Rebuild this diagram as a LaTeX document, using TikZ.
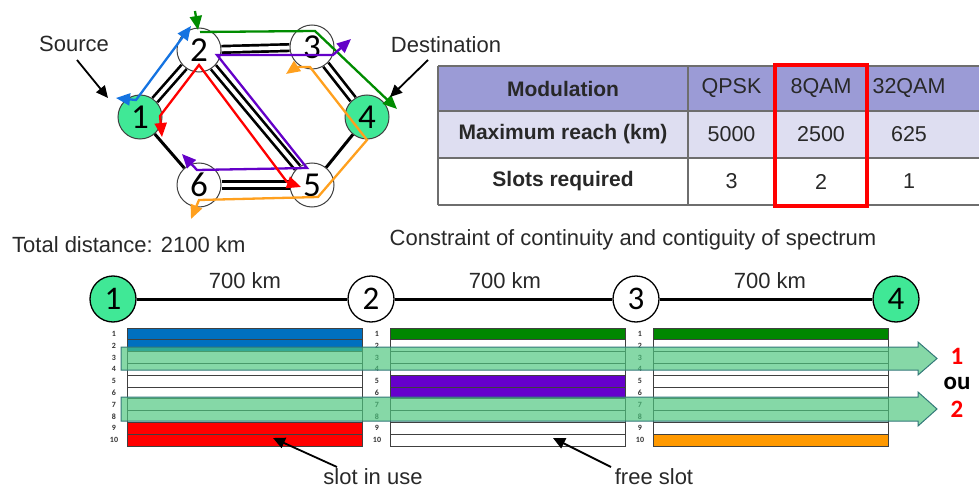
\documentclass[tikz,border=0pt]{standalone}
\usepackage{fontspec}
\setmainfont{Liberation Sans}
\newfontfamily\carl{Carlito}
\usetikzlibrary{arrows.meta}
\definecolor{txtc}{RGB}{40,40,40}
\definecolor{ngreen}{RGB}{64,232,150}
\definecolor{pblue}{RGB}{20,115,225}
\definecolor{pgreen}{RGB}{0,140,0}
\definecolor{ppurple}{RGB}{100,0,200}
\definecolor{pred}{RGB}{255,0,0}
\definecolor{porange}{RGB}{255,160,30}
\definecolor{sblue}{RGB}{0,112,192}
\definecolor{sgreen}{RGB}{0,135,0}
\definecolor{spurple}{RGB}{102,0,204}
\definecolor{sred}{RGB}{255,0,0}
\definecolor{sorange}{RGB}{255,153,0}
\definecolor{swhite}{RGB}{255,255,255}
\definecolor{hdr}{RGB}{155,155,214}
\definecolor{row2}{RGB}{222,222,241}
\definecolor{hlfill}{RGB}{76,198,126}
\definecolor{hlline}{RGB}{50,120,120}
\definecolor{tline}{RGB}{110,110,110}
\begin{document}
\begin{tikzpicture}[x=1pt,y=-1pt,
  txt/.style={text=txtc,inner sep=0pt,font=\fontsize{22}{24}\selectfont},
  ttxt/.style={text=txtc,inner sep=0pt,font=\fontsize{21.5}{24}\selectfont},
  tbold/.style={text=txtc,inner sep=0pt,font=\bfseries\fontsize{21}{24}\selectfont},
  gnode/.style={circle,draw=black!75,line width=1pt,minimum size=44pt,inner sep=0pt,fill=white,
     font=\carl\fontsize{35}{35}\selectfont},
  lnode/.style={circle,draw=black,line width=1.3pt,minimum size=46pt,inner sep=0pt,fill=white,
     font=\carl\fontsize{33}{33}\selectfont},
  endn/.style={fill=ngreen},
  dbl/.style={draw=black,double=white,double distance=3.8pt,line width=2.7pt},
  sgl/.style={draw=black,line width=3pt},
  lp/.style={line width=2.3pt,line join=miter,{Triangle[length=14pt,width=12pt]}-{Triangle[length=14pt,width=12pt]}},
  lpe/.style={line width=2.3pt,line join=miter,-{Triangle[length=14pt,width=12pt]}},
  ptr/.style={draw=black,line width=1.8pt,-{Triangle[length=12pt,width=11pt]}},
  cell/.style={draw=black!75,line width=0.8pt},
  rnum/.style={inner sep=0pt,text=black!80,font=\carl\bfseries\fontsize{8}{8}\selectfont},
  hl/.style={fill=hlfill,fill opacity=0.68,draw=hlline,line width=1pt},
  rlab/.style={inner sep=0pt,font=\carl\bfseries\fontsize{25}{25}\selectfont}
]
\useasboundingbox (0,0) rectangle (979,489);

% ---------------- network graph ----------------
\node[gnode,endn] (n1) at (140,117) {1};
\node[gnode] (n2) at (199,50) {2};
\node[gnode] (n3) at (312,47) {3};
\node[gnode,endn] (n4) at (367,117) {4};
\node[gnode] (n5) at (312,185) {5};
\node[gnode] (n6) at (199,185) {6};
\draw[dbl] (n1) -- (n2);
\draw[dbl] (n2) -- (n3);
\draw[dbl] (n3) -- (n4);
\draw[dbl] (n2) -- (n5);
\draw[dbl] (n6) -- (n5);
\draw[sgl] (n1) -- (n6);
\draw[sgl] (n4) -- (n5);

% lightpaths
\draw[lp,pblue] (116,98) -- (136,100) -- (191,26);
\draw[lpe,pgreen] (195,11) -- (198,30);
\draw[lpe,pgreen] (200,32) -- (315,31) -- (397,109);
\draw[lp,ppurple] (351,39) -- (333,55) -- (217,55) -- (307,168) -- (197,170) -- (182,154);
\draw[lp,pred] (162,137) -- (160,116) -- (199,65) -- (287,182) -- (301,187);
\draw[lp,porange] (286,74) -- (296,67) -- (310,67) -- (367,140) -- (318,197) -- (199,200) -- (191,219);

% source / destination
\node[txt] (src) at (74,44) {Source};
\node[txt] (dst) at (446,45) {Destination};
\coordinate (srcT) at (108,98);
\coordinate (dstT) at (390,97);
\draw[ptr] (77,60) -- (srcT);
\draw[ptr] (428,60) -- (dstT);

% ---------------- table ----------------
\fill[hdr] (438,66) rectangle (985,111);
\fill[row2] (438,111) rectangle (985,158);
\fill[white] (438,158) rectangle (985,205);
\draw[tline,line width=1.3pt] (438,66) -- (985,66);
\draw[tline,line width=1.3pt] (438,111) -- (985,111);
\draw[tline,line width=1.3pt] (438,158) -- (985,158);
\draw[tline,line width=1.3pt] (438,205) -- (985,205);
\draw[tline,line width=1.3pt] (438,66) -- (438,205);
\draw[tline,line width=1.3pt] (688,66) -- (688,205);
\draw[tline,line width=1.3pt] (775,66) -- (775,205);
\draw[tline,line width=1.3pt] (867,66) -- (867,205);

\node[tbold] (h1) at (563,88.5) {Modulation};
\node[ttxt] (h2) at (731.5,88.5) {QPSK};
\node[ttxt] (h3) at (821,88.5) {8QAM};
\node[ttxt] (h4) at (909,88.5) {32QAM};
\node[tbold] (r1) at (563,134.5) {Maximum reach (km)};
\node[ttxt] (r2) at (731.5,134.5) {5000};
\node[ttxt] (r3) at (821,134.5) {2500};
\node[ttxt] (r4) at (909,134.5) {625};
\node[tbold] (s1) at (563,181.5) {Slots required};
\node[ttxt] (s2) at (731.5,181.5) {3};
\node[ttxt] (s3) at (821,181.5) {2};
\node[ttxt] (s4) at (909,181.5) {1};
\draw[red,line width=3.5pt] (775,65) rectangle (867,206);

% ---------------- linear path ----------------
\node[txt,anchor=west] (tot) at (12,245) {Total distance: 2100 km};
\node[txt] (con) at (633,240) {Constraint of continuity and contiguity of spectrum};
\node[lnode,endn] (l1) at (113,299) {1};
\node[lnode] (l2) at (371,299) {2};
\node[lnode] (l3) at (636,299) {3};
\node[lnode,endn] (l4) at (896,299) {4};
\draw[black,line width=3pt] (l1) -- (l2);
\draw[black,line width=3pt] (l2) -- (l3);
\draw[black,line width=3pt] (l3) -- (l4);
\node[txt] (d1) at (245,281) {700 km};
\node[txt] (d2) at (505,281) {700 km};
\node[txt] (d3) at (770,281) {700 km};

% ---------------- spectrum slots ----------------
\foreach \x/\cols in {127/{sblue,sblue,swhite,swhite,swhite,swhite,swhite,swhite,sred,sred},
                      390/{sgreen,swhite,swhite,swhite,spurple,spurple,swhite,swhite,swhite,swhite},
                      653/{sgreen,swhite,swhite,swhite,swhite,swhite,swhite,swhite,swhite,sorange}}{
  \foreach \c [count=\i] in \cols {
    \draw[cell,fill=\c] (\x,{328+(\i-1)*11.8}) rectangle ({\x+235},{328+\i*11.8});
    \node[rnum] at ({\x-13},{328+(\i-0.5)*11.8}) {\i};
  }
}
\draw[hl] (121,347) -- (918,347) -- (918,342) -- (937,358.5) -- (918,375) -- (918,370) -- (121,370) -- cycle;
\draw[hl] (121,397) -- (918,397) -- (918,392) -- (937,409) -- (918,426) -- (918,421) -- (121,421) -- cycle;
\node[rlab,text=red] (o1) at (957,356) {1};
\node[rlab,text=black] (ou) at (957,383) {ou};
\node[rlab,text=red] (o2) at (957,409) {2};

\node[txt] (use) at (373,477) {slot in use};
\node[txt] (free) at (654,477) {free slot};
\coordinate (useT) at (273,438);
\coordinate (freeT) at (553,438);
\draw[ptr] (337,467) -- (useT);
\draw[ptr] (611,467) -- (freeT);
\end{tikzpicture}
\end{document}
